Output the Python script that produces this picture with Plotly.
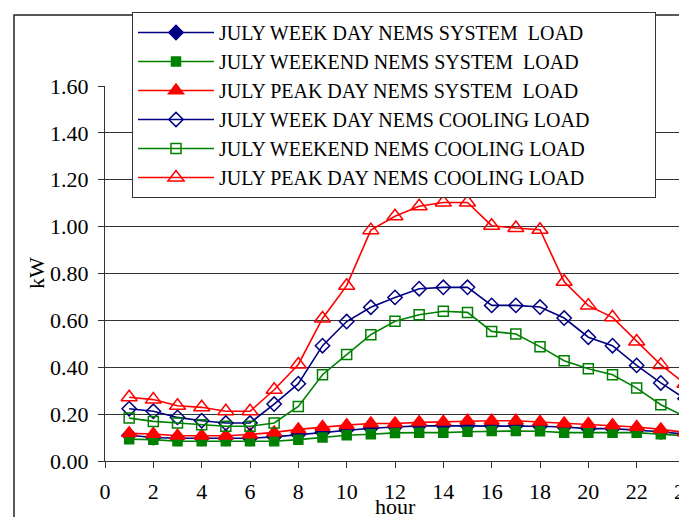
import plotly.graph_objects as go

hours = list(range(1, 25))

weekday_system = [0.110, 0.100, 0.097, 0.097, 0.097, 0.097, 0.103, 0.113, 0.123, 0.133, 0.140, 0.145,
                  0.150, 0.150, 0.150, 0.150, 0.150, 0.148, 0.145, 0.138, 0.138, 0.133, 0.125, 0.114]
weekend_system = [0.093, 0.091, 0.084, 0.084, 0.084, 0.084, 0.084, 0.091, 0.100, 0.110, 0.114, 0.120,
                  0.121, 0.121, 0.125, 0.128, 0.128, 0.127, 0.121, 0.121, 0.121, 0.121, 0.114, 0.108]
peak_system = [0.118, 0.115, 0.108, 0.108, 0.108, 0.113, 0.122, 0.135, 0.145, 0.153, 0.160, 0.160,
               0.165, 0.167, 0.172, 0.172, 0.172, 0.167, 0.160, 0.158, 0.153, 0.145, 0.135, 0.122]
weekday_cooling = [0.223, 0.212, 0.186, 0.172, 0.162, 0.162, 0.243, 0.330, 0.492, 0.595, 0.656, 0.698,
                   0.735, 0.741, 0.741, 0.664, 0.664, 0.657, 0.610, 0.528, 0.492, 0.408, 0.333, 0.266]
weekend_cooling = [0.183, 0.169, 0.162, 0.155, 0.148, 0.148, 0.162, 0.233, 0.368, 0.454, 0.539, 0.596,
                   0.624, 0.639, 0.634, 0.553, 0.542, 0.488, 0.428, 0.394, 0.368, 0.311, 0.240, 0.190]
peak_cooling = [0.272, 0.262, 0.236, 0.229, 0.212, 0.212, 0.304, 0.412, 0.608, 0.748, 0.985, 1.044,
                1.087, 1.103, 1.103, 1.004, 0.994, 0.987, 0.765, 0.663, 0.613, 0.510, 0.410, 0.330]

names = ["JULY WEEK DAY NEMS SYSTEM  LOAD", "JULY WEEKEND NEMS SYSTEM  LOAD",
         "JULY PEAK DAY NEMS SYSTEM  LOAD", "JULY WEEK DAY NEMS COOLING LOAD",
         "JULY WEEKEND NEMS COOLING LOAD", "JULY PEAK DAY NEMS COOLING LOAD"]

x_title = "hour"
y_title = "kW"

NAVY = "#000080"
GREEN = "#008000"
RED = "#FF0000"

series = [
    (weekday_system, NAVY, "diamond", 11),
    (weekend_system, GREEN, "square", 9),
    (peak_system, RED, "triangle-up", 13),
    (weekday_cooling, NAVY, "diamond-open", 11),
    (weekend_cooling, GREEN, "square-open", 10),
    (peak_cooling, RED, "triangle-up-open", 14),
]

PAD = "\u00a0" * 12

fig = go.Figure()
for i, (vals, col, sym, sz) in enumerate(series):
    fig.add_trace(go.Scatter(
        x=hours, y=vals, name=names[i] + PAD, mode="lines+markers",
        line=dict(color=col, width=1.6),
        marker=dict(symbol=sym, size=sz, color=col, line=dict(color=col, width=1.5)),
        legendgroup="g%d" % i,
    ))

FONT = "'Liberation Serif', 'Times New Roman', serif"
L, R, T, B = 97, 10, 78, 64
W, H = 687, 517
pw, ph = W - L - R, H - T - B

def px(xp):
    return (xp - L) / pw

def py(yp):
    return (H - B - yp) / ph

fig.update_layout(
    width=W, height=H,
    margin=dict(l=L, r=R, t=T, b=B, autoexpand=False),
    paper_bgcolor="white", plot_bgcolor="white",
    font=dict(family=FONT, size=22, color="black"),
    showlegend=True,
    legend=dict(
        x=px(124), y=py(4), xanchor="left", yanchor="top",
        bgcolor="white", bordercolor="#333333", borderwidth=1,
        font=dict(family=FONT, size=20, color="black"),
        tracegroupgap=0, itemwidth=76,
    ),
    xaxis=dict(
        range=[0, 24], tickmode="linear", tick0=0, dtick=2,
        showgrid=False, zeroline=False,
        showline=True, linecolor="#333333", linewidth=1, mirror=False,
        ticks="outside", ticklen=6, tickcolor="#333333",
        tickfont=dict(family=FONT, size=22), ticklabelstandoff=5,
        ticklabeloverflow="allow",
    ),
    yaxis=dict(
        range=[0, 1.6], tickmode="linear", tick0=0, dtick=0.2, tickformat=".2f",
        showgrid=True, gridcolor="#333333", gridwidth=1, zeroline=False,
        showline=True, linecolor="#333333", linewidth=1,
        ticks="outside", ticklen=6, tickcolor="#333333",
        tickfont=dict(family=FONT, size=22), ticklabelstandoff=5,
    ),
    annotations=[
        dict(text=x_title, xref="paper", yref="paper", x=0.5, y=py(498),
             xanchor="center", yanchor="middle", showarrow=False,
             font=dict(family=FONT, size=22)),
        dict(text=y_title, xref="paper", yref="paper", x=px(28), y=py(265),
             xanchor="center", yanchor="middle", showarrow=False, textangle=-90,
             font=dict(family=FONT, size=22)),
    ],
    shapes=[
        dict(type="line", xref="paper", yref="paper", x0=1, x1=1, y0=0, y1=1,
             line=dict(color="#888888", width=1.5)),
        dict(type="rect", xref="paper", yref="paper", x0=px(6), x1=px(700), y0=py(530), y1=py(7),
             line=dict(color="#222222", width=1.5), fillcolor="rgba(0,0,0,0)", layer="below"),
    ],
)

fig.write_html("out.html")
